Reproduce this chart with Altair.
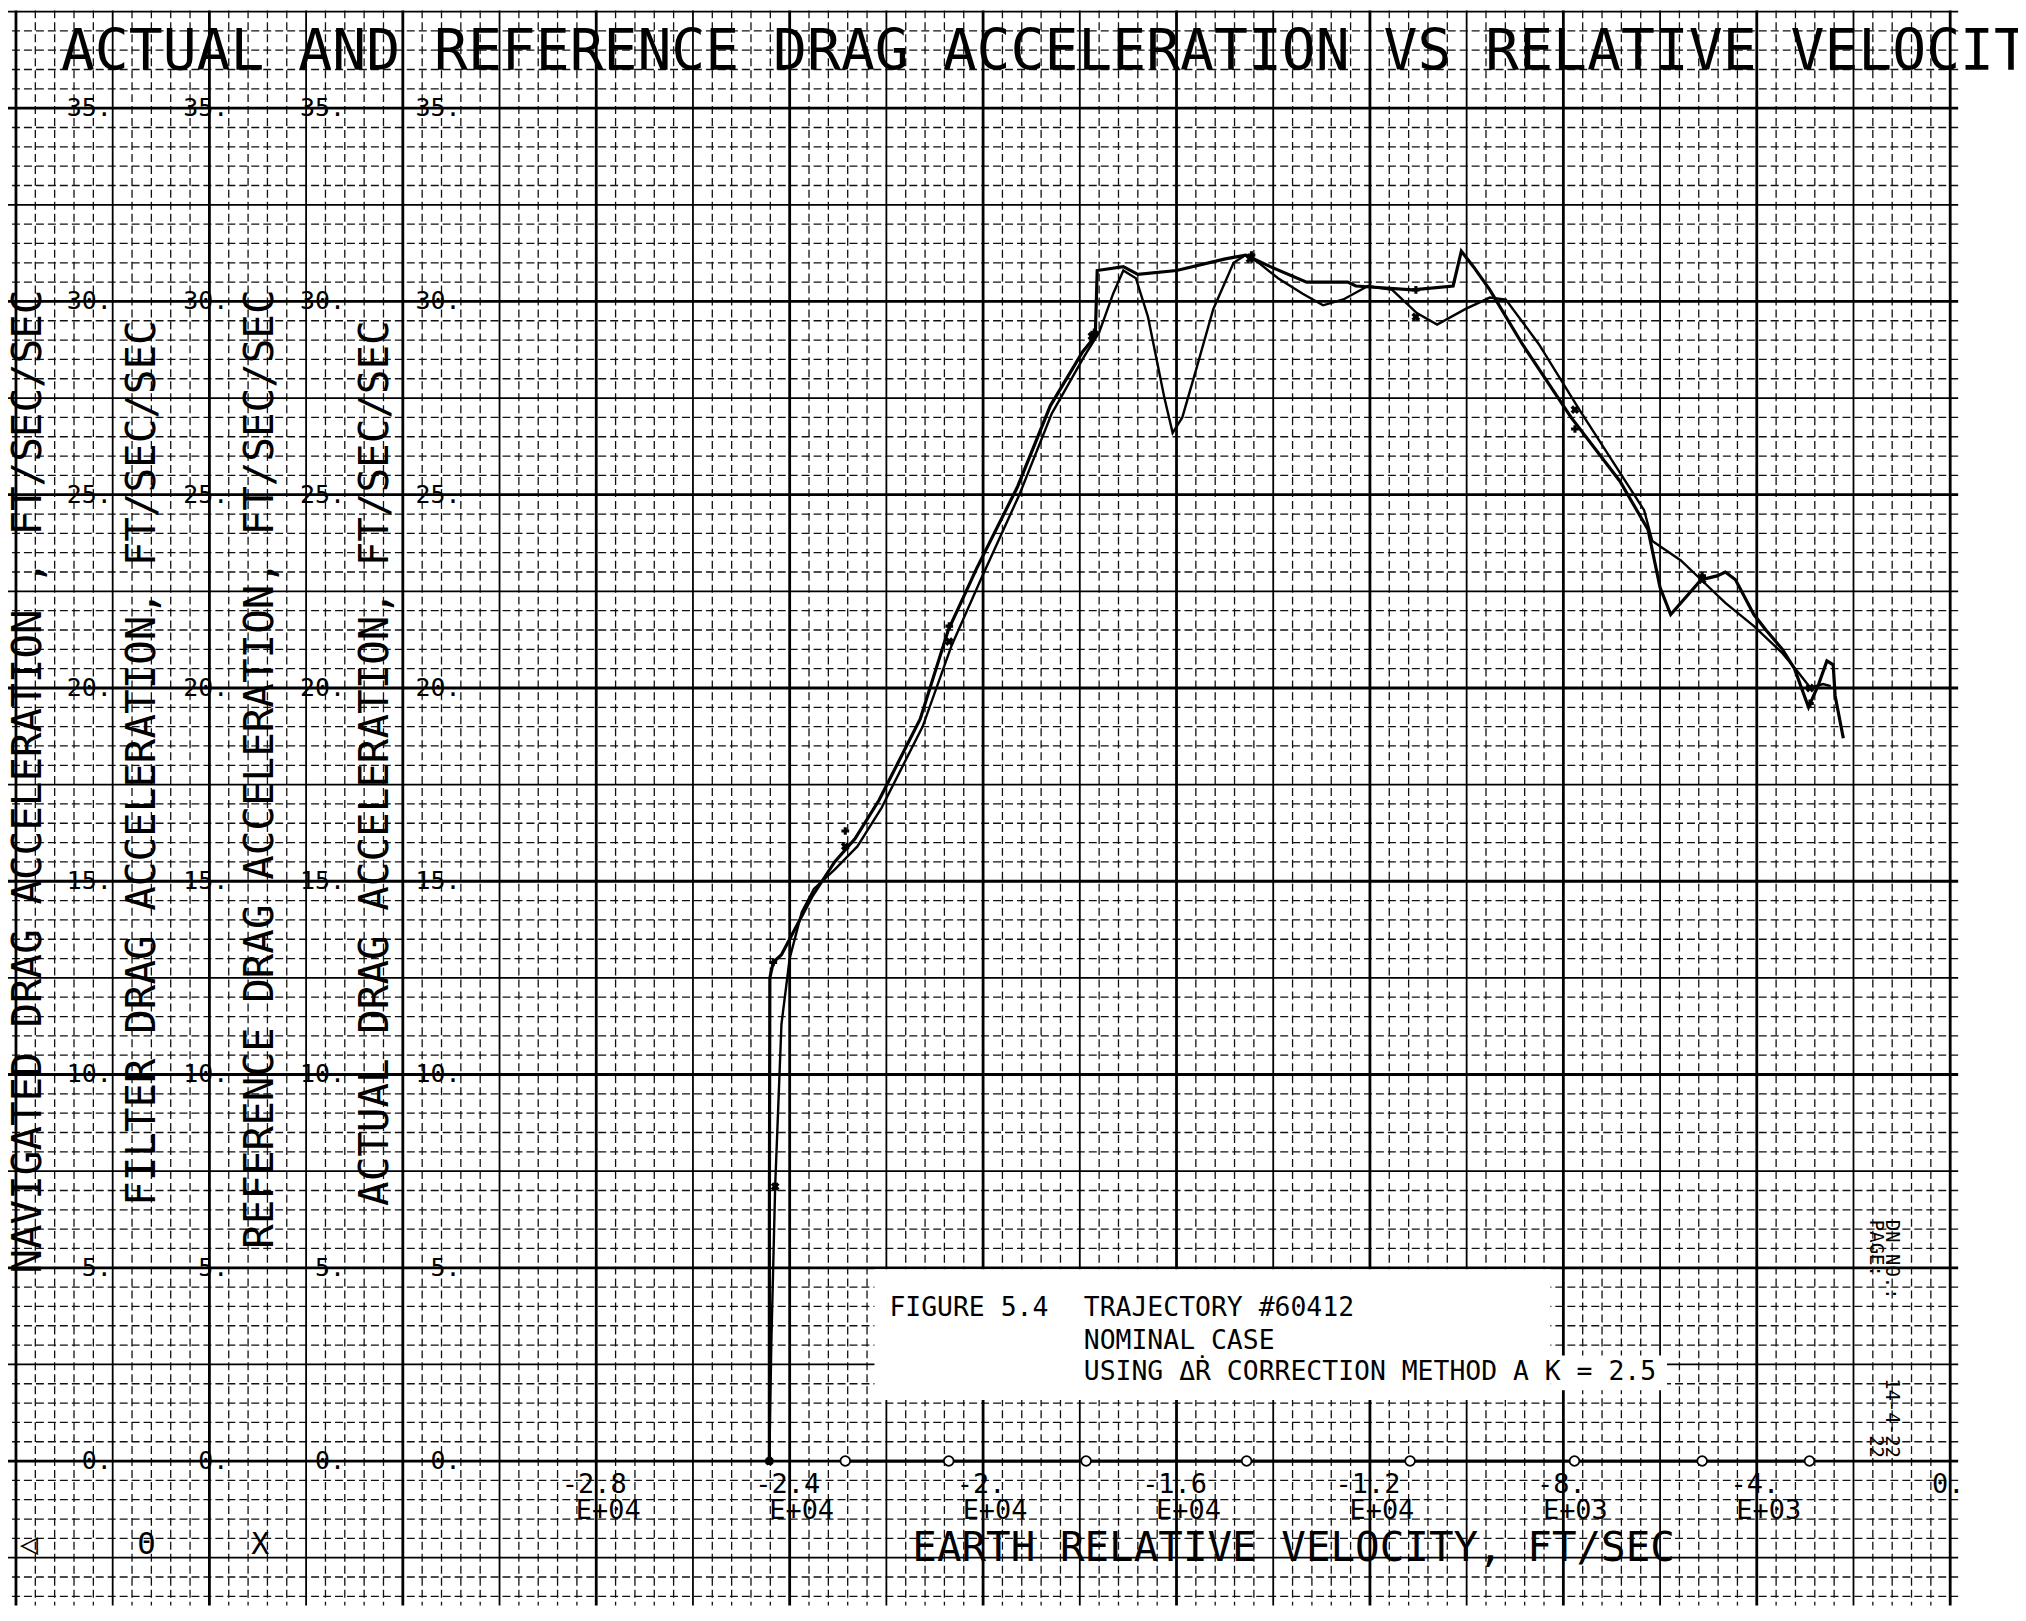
import altair as alt
import pandas as pd
import numpy as np

# ---------------- data ----------------
# Actual drag acceleration (ft/sec/sec) vs earth relative velocity (ft/sec)
act_v = [-24420, -24420, -24410, -24340, -24170, -23540, -23070, -22650, -22150, -21300,
         -20720, -20130, -19290, -18610, -17940, -17680, -17640, -17100, -16800, -16000,
         -14990, -14570, -14060, -13310, -12460, -12290, -11120, -10280, -10110, -9860,
         -9520, -8850, -7840, -6830, -6250, -6000, -5780, -5150, -4820, -4650,
         -4440, -4060, -3810, -3470, -3220, -2930, -2720, -2550, -2420, -2380, -2210]
act_a = [0.0, 6.0, 12.5, 12.9, 13.1, 14.6, 15.5, 16.1, 17.1, 19.2,
         21.5, 23.1, 25.2, 27.3, 28.7, 29.1, 30.8, 30.9, 30.7, 30.8,
         31.1, 31.2, 30.9, 30.5, 30.5, 30.4, 30.3, 30.4, 31.3, 30.9,
         30.3, 28.9, 27.0, 25.35, 24.1, 22.6, 21.9, 22.8, 22.9, 23.0,
         22.8, 21.9, 21.5, 21.0, 20.5, 19.5, 20.1, 20.7, 20.6, 19.8, 18.7]

# Reference drag acceleration
ref_v = [-24420, -24380, -24300, -24170, -24000, -23750, -23500, -23070, -22600, -22100,
         -21250, -20650, -20050, -19250, -18580, -17900, -17600, -17310, -17100, -16840,
         -16590, -16250, -16080, -15880, -15580, -15240, -14820, -14570, -14300, -13900,
         -13390, -12970, -12550, -12040, -11540, -11030, -10610, -10030, -9520, -9190,
         -8510, -7670, -6330, -6160, -5570, -5150, -4650, -4060, -3470, -3140,
         -2890, -2630, -2470]
ref_a = [0.0, 3.0, 7.1, 11.3, 13.0, 14.2, 14.8, 15.3, 15.9, 16.9,
         19.0, 21.1, 22.8, 25.0, 27.1, 28.6, 29.2, 30.2, 30.8, 30.6,
         29.6, 27.5, 26.6, 27.0, 28.3, 29.8, 31.0, 31.2, 31.0, 30.6,
         30.2, 29.9, 30.05, 30.4, 30.3, 29.7, 29.4, 29.8, 30.1, 30.05,
         28.9, 27.2, 24.6, 23.8, 23.3, 22.8, 22.2, 21.6, 20.9, 20.4,
         20.0, 20.1, 20.05]

# plotted symbols along the curves
ref_mark_v = [-24420, -24300, -22850, -20700, -17750, -14480, -11050, -7760, -5130, -2900]
ref_mark_a = [0.0, 7.1, 15.9, 21.2, 29.1, 31.1, 29.6, 27.2, 22.8, 20.0]
act_mark_v = [-24420, -24340, -22850, -20700, -17700, -14450, -11050, -7760, -5130, -2900]
act_mark_a = [0.0, 12.9, 16.3, 21.6, 29.2, 31.2, 30.3, 26.7, 22.9, 19.6]

# Filter drag acceleration (zero all along, circle symbols)
filt_v = [-22850, -20710, -17870, -14550, -11170, -7770, -5130, -2910]
filt_a = [0, 0, 0, 0, 0, 0, 0, 0]

# axis labels
y_tick_vals = [0, 5, 10, 15, 20, 25, 30, 35]
x_tick_vals = [-28000, -24000, -20000, -16000, -12000, -8000, -4000, 0]
x_tick_txt = ["-2.8", "-2.4", "-2.", "-1.6", "-1.2", "-8.", "-4.", "0."]
x_tick_exp = ["E+04", "E+04", "E+04", "E+04", "E+04", "E+03", "E+03", ""]

title_txt = "ACTUAL AND REFERENCE DRAG ACCELERATION VS RELATIVE VELOCITY"
x_title_txt = "EARTH RELATIVE VELOCITY, FT/SEC"
y_titles = ["NAVIGATED DRAG ACCELERATION , FT/SEC/SEC",
            "FILTER DRAG ACCELERATION, FT/SEC/SEC",
            "REFERENCE DRAG ACCELERATION, FT/SEC/SEC",
            "ACTUAL DRAG ACCELERATION, FT/SEC/SEC"]
legend_syms = ["◁", "Θ", "X"]
note_head = "FIGURE 5.4"
note_lines = ["TRAJECTORY #60412", "NOMINAL CASE", "USING ΔṘ CORRECTION METHOD A K = 2.5"]
stamp_keys = ["DN NO.:", "PAGE:"]
stamp_vals = ["14-4-22", "22"]

# ---------------- layout (data-space anchors) ----------------
W, H = 1956, 1600
XD = [-40165, 165]
YD = [-3.74, 37.53]
FONT = "DejaVu Sans Mono"

# the four printed y-axis columns (label right edge) and their titles
ycol_x = [-38000, -35590, -33175, -30785]
ytitle_x = [-39740, -37381, -34928, -32557]
ytitle_y = [4.85, 6.60, 5.49, 6.60]

xs = alt.Scale(domain=XD, nice=False, zero=False)
ys = alt.Scale(domain=YD, nice=False, zero=False)


def X(f="x"):
    return alt.X(f"{f}:Q", scale=xs, axis=None)


def Y(f="y"):
    return alt.Y(f"{f}:Q", scale=ys, axis=None)


def txt(df, **kw):
    base = dict(baseline="middle", font=FONT, color="black")
    base.update(kw)
    return alt.Chart(df).mark_text(**base).encode(x=X(), y=Y(), text="t:N")


# graph paper grid
heavy_x = list(range(-40000, 1, 4000))
med_x = list(range(-38000, 1, 4000))
minor_x = [v for v in range(-40000, 1, 400) if v % 2000 != 0]
heavy_y = [float(v) for v in range(0, 36, 5)]
med_y = [float(v) for v in np.arange(-2.5, 37.6, 5.0)]
minor_y = [round(float(v), 2) for v in np.arange(-3.5, 37.51, 0.5)
           if abs((v / 2.5) - round(v / 2.5)) > 1e-6]

layers = []
layers.append(alt.Chart(pd.DataFrame({"x": minor_x})).mark_rule(
    color="#111111", strokeWidth=1.3, strokeDash=[8, 4]).encode(x=X()))
layers.append(alt.Chart(pd.DataFrame({"y": minor_y})).mark_rule(
    color="#111111", strokeWidth=1.3, strokeDash=[8, 4]).encode(y=Y()))
layers.append(alt.Chart(pd.DataFrame({"x": med_x})).mark_rule(
    color="black", strokeWidth=1.8).encode(x=X()))
layers.append(alt.Chart(pd.DataFrame({"y": med_y})).mark_rule(
    color="black", strokeWidth=1.8).encode(y=Y()))
layers.append(alt.Chart(pd.DataFrame({"x": heavy_x})).mark_rule(
    color="black", strokeWidth=2.8).encode(x=X()))
layers.append(alt.Chart(pd.DataFrame({"y": heavy_y})).mark_rule(
    color="black", strokeWidth=2.8).encode(y=Y()))

# pasted-on white label boxes
boxes = pd.DataFrame({"x": [-22247, -8268], "x2": [-8268, -5856],
                      "y": [1.58, 1.83], "y2": [4.96, 2.73]})
layers.append(alt.Chart(boxes).mark_rect(color="white").encode(
    x=X(), x2="x2:Q", y=Y(), y2="y2:Q"))

# curves
act_df = pd.DataFrame({"x": act_v, "y": act_a, "i": range(len(act_v))})
ref_df = pd.DataFrame({"x": ref_v, "y": ref_a, "i": range(len(ref_v))})
filt_df = pd.DataFrame({"x": filt_v, "y": filt_a, "i": range(len(filt_v))})
layers.append(alt.Chart(filt_df).mark_line(color="black", strokeWidth=2.8).encode(
    x=X(), y=Y(), order="i:Q"))
layers.append(alt.Chart(ref_df).mark_line(color="black", strokeWidth=2.4).encode(
    x=X(), y=Y(), order="i:Q"))
layers.append(alt.Chart(act_df).mark_line(color="black", strokeWidth=3.2).encode(
    x=X(), y=Y(), order="i:Q"))

# symbols
layers.append(alt.Chart(pd.DataFrame({"x": ref_mark_v, "y": ref_mark_a})).mark_point(
    shape="cross", angle=45, filled=True, color="black", size=80, opacity=1).encode(x=X(), y=Y()))
layers.append(alt.Chart(pd.DataFrame({"x": act_mark_v, "y": act_mark_a})).mark_point(
    shape="cross", angle=0, filled=True, color="black", size=60, opacity=1).encode(x=X(), y=Y()))
layers.append(alt.Chart(filt_df).mark_point(
    shape="circle", filled=True, fill="white", stroke="black", strokeWidth=1.8,
    size=95, opacity=1).encode(x=X(), y=Y()))

# title
layers.append(txt(pd.DataFrame({"x": [-39070], "y": [36.42], "t": [title_txt]}),
                  align="left", fontSize=56.5))

# y tick labels (four printed columns)
yt = pd.DataFrame([{"x": c, "y": v, "t": f"{v}."} for c in ycol_x for v in y_tick_vals])
layers.append(txt(yt, align="right", fontSize=25, dx=-1))

# rotated y titles
ytt = pd.DataFrame({"x": ytitle_x, "y": ytitle_y, "t": y_titles})
layers.append(txt(ytt, align="left", angle=270, fontSize=41))

# x tick labels
xt = pd.DataFrame({"x": x_tick_vals, "y": [-0.62] * len(x_tick_vals), "t": x_tick_txt})
layers.append(txt(xt, align="center", fontSize=27, dx=-2))
xe = pd.DataFrame({"x": x_tick_vals, "y": [-1.29] * len(x_tick_vals), "t": x_tick_exp})
layers.append(txt(xe, align="center", fontSize=27, dx=12))

# x title
layers.append(txt(pd.DataFrame({"x": [-21464], "y": [-2.27], "t": [x_title_txt]}),
                  align="left", fontSize=41))

# legend symbols
lg = pd.DataFrame({"x": [-39732, -37299, -34949], "y": [-2.17] * 3, "t": legend_syms})
layers.append(txt(lg, align="center", fontSize=30))

# figure note
layers.append(txt(pd.DataFrame({"x": [-21938], "y": [3.97], "t": [note_head]}),
                  align="left", fontSize=26.5))
nt = pd.DataFrame({"x": [-17918, -17918, -17918], "y": [3.97, 3.10, 2.30], "t": note_lines})
layers.append(txt(nt, align="left", fontSize=26.5))

# document stamp (rotated, reading downward)
st_k = pd.DataFrame({"x": [-1196, -1526], "y": [6.24, 6.24], "t": stamp_keys})
layers.append(txt(st_k, align="left", angle=90, fontSize=19))
st_v = pd.DataFrame({"x": [-1196, -1526], "y": [0.08, 0.08], "t": stamp_vals})
layers.append(txt(st_v, align="right", angle=90, fontSize=19))

chart = alt.layer(*layers).properties(
    width=W, height=H,
    autosize=alt.AutoSizeParams(type="none"),
    padding={"left": 0, "top": 0, "right": 60, "bottom": 0},
    background="white",
).configure_view(strokeWidth=0)

chart.save("out.html", embed_options={"renderer": "svg", "actions": False})
